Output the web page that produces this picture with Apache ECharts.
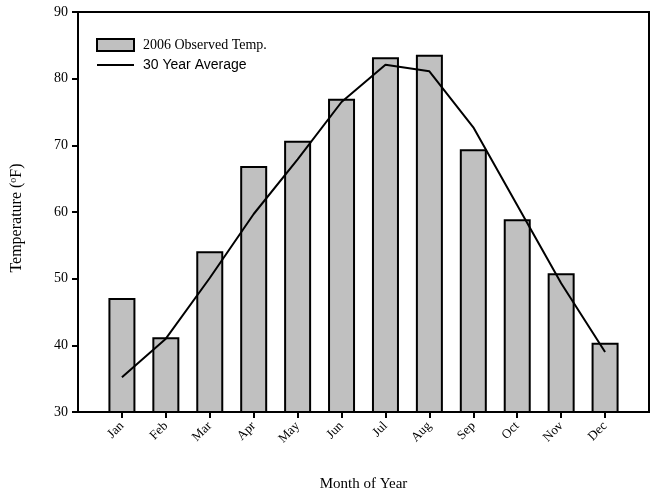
<!DOCTYPE html>
<html><head><meta charset="utf-8">
<script src="https://cdn.jsdelivr.net/npm/echarts@6/dist/echarts.min.js"></script>
<style>html,body{margin:0;padding:0;background:#fff}#c{width:651px;height:497px}</style>
</head><body><div id="c"></div>
<script>
var months = ['Jan','Feb','Mar','Apr','May','Jun','Jul','Aug','Sep','Oct','Nov','Dec'];
var observed2006 = [47.1, 41.2, 54.1, 66.9, 70.7, 77.0, 83.2, 83.6, 69.4, 58.9, 50.8, 40.4];
var average30yr = [35.2, 41.0, 50.1, 59.7, 67.9, 76.5, 82.1, 81.1, 72.7, 61.0, 49.3, 39.0];
var yTicks = [30, 40, 50, 60, 70, 80, 90];

var positions = months.map(function(m, i){ return i + 1; });
var serif = '"Liberation Serif","Times New Roman",serif';
var sans = '"Liberation Sans",Arial,sans-serif';

var chart = echarts.init(document.getElementById('c'), null, {renderer:'canvas'});
chart.setOption({
  animation: false,
  backgroundColor: '#fff',
  grid: {left: 77, right: 2, top: 12, bottom: 84, show: true, borderColor: '#000', borderWidth: 2, backgroundColor: 'transparent'},
  legend: {
    orient: 'vertical', left: 91, top: 33, itemWidth: 37, itemHeight: 12, itemGap: 6,
    textStyle: {
      fontSize: 14, color: '#000',
      rich: {
        a: {fontFamily: serif, fontSize: 14, color: '#000', padding: [0,0,0,4]},
        b: {fontFamily: sans, fontSize: 14, color: '#000', padding: [0,0,0,4]}
      }
    },
    formatter: function(name){ return name === '2006 Observed Temp.' ? '{a|' + name + '}' : '{b|' + name + '}'; },
    data: [
      {name: '2006 Observed Temp.', icon: 'rect', itemStyle: {color: '#c0c0c0', borderColor: '#000', borderWidth: 2}},
      {name: '30 Year Average', itemStyle: {opacity: 0}, lineStyle: {color: '#000', width: 2, opacity: 1}}
    ]
  },
  xAxis: {
    type: 'value', min: 0, max: positions.length + 1, interval: 1,
    name: 'Month of Year', nameLocation: 'middle', nameGap: 65,
    nameTextStyle: {fontFamily: serif, fontSize: 15, color: '#000'},
    axisLine: {show: true, lineStyle: {color: '#000', width: 2}},
    axisTick: {show: true, length: 6, lineStyle: {color: '#000', width: 2}, customValues: positions},
    axisLabel: {
      rotate: 45, fontFamily: serif, fontSize: 13, color: '#000', margin: 12,
      customValues: positions,
      formatter: function(v){ return months[v - 1] || ''; }
    },
    splitLine: {show: false}
  },
  yAxis: {
    type: 'value', min: yTicks[0], max: yTicks[yTicks.length - 1], interval: 10,
    name: 'Temperature ({sup|o}F)', nameLocation: 'middle', nameGap: 52, nameRotate: 90,
    nameTextStyle: {fontFamily: serif, fontSize: 16, color: '#000', padding: [0,12,0,0],
      rich: {sup: {fontFamily: serif, fontSize: 10, color: '#000', verticalAlign: 'top', padding: [0,0,8,0]}}},
    axisLine: {show: true, lineStyle: {color: '#000', width: 2}},
    axisTick: {show: true, length: 6, lineStyle: {color: '#000', width: 2}},
    axisLabel: {fontFamily: serif, fontSize: 14, color: '#000', margin: 10},
    splitLine: {show: false}
  },
  series: [
    {
      name: '2006 Observed Temp.', type: 'bar', barWidth: 27,
      itemStyle: {color: '#c0c0c0', borderColor: '#000', borderWidth: 2},
      data: observed2006.map(function(v, i){ return [positions[i], v]; })
    },
    {
      name: '30 Year Average', type: 'line', symbol: 'none', showSymbol: false,
      lineStyle: {color: '#000', width: 2},
      itemStyle: {color: '#000'},
      data: average30yr.map(function(v, i){ return [positions[i], v]; })
    }
  ]
});
</script></body></html>
